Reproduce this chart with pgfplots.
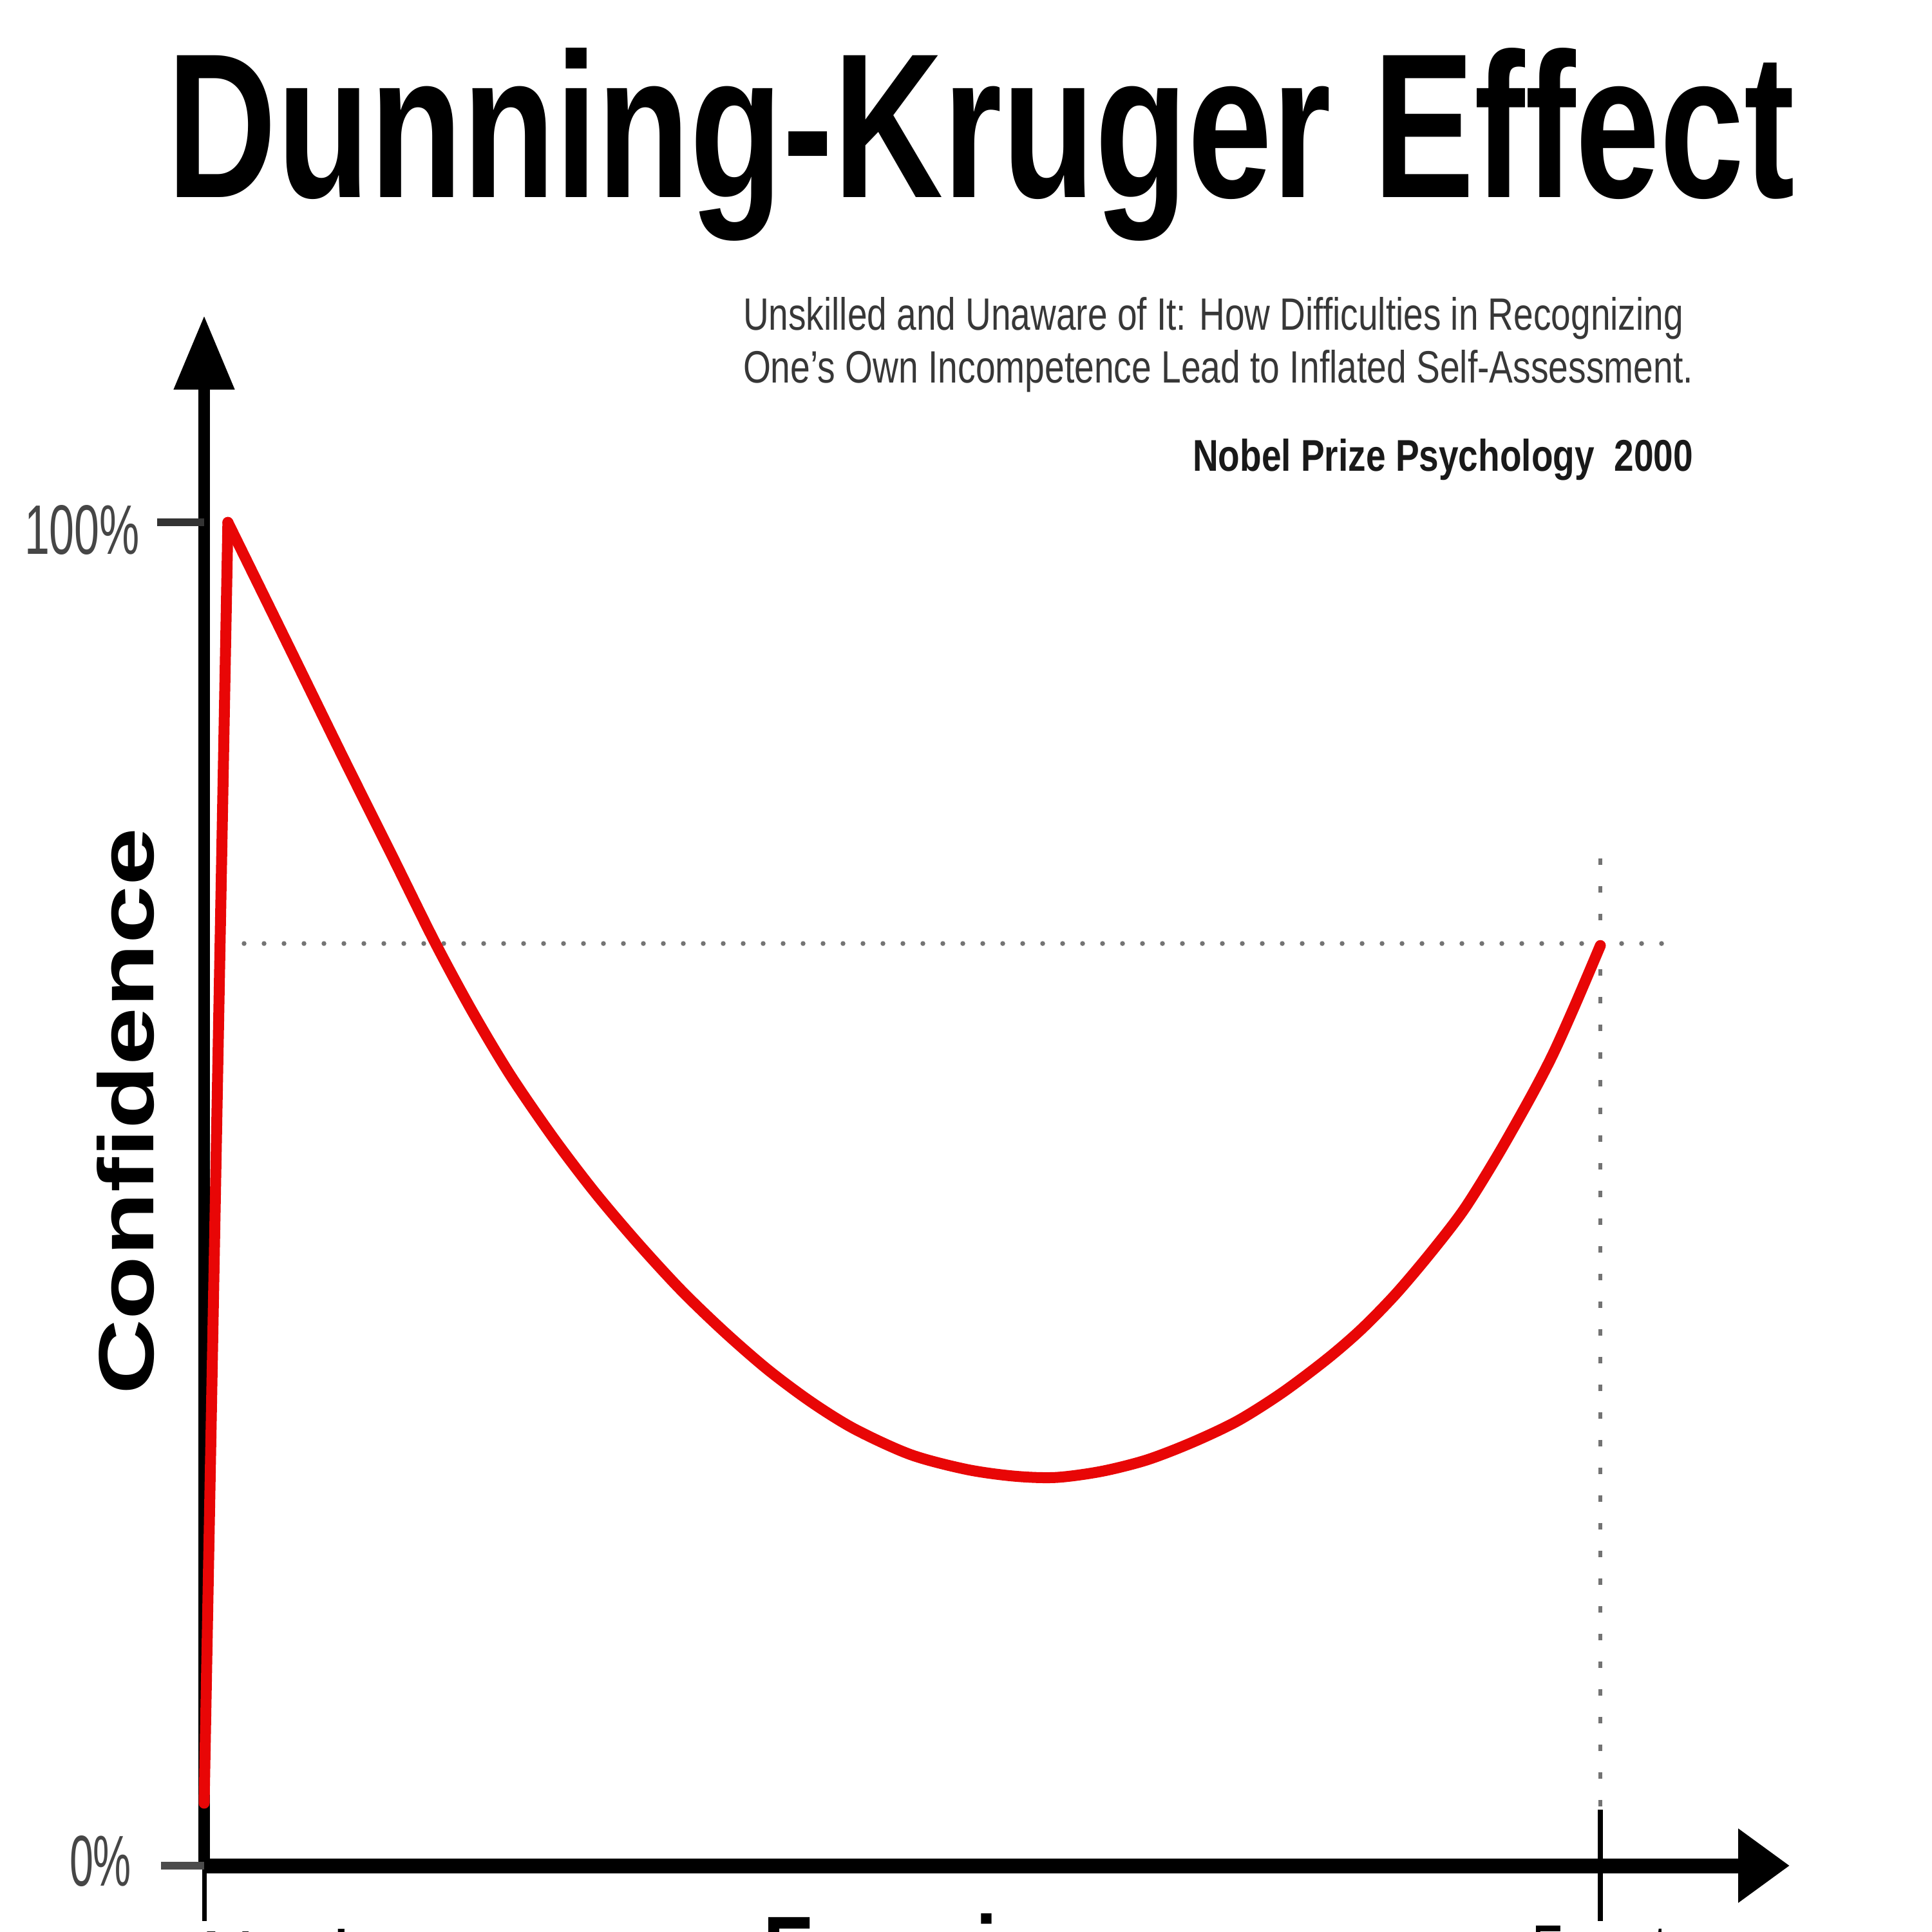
\documentclass[border=0pt]{standalone}
\usepackage{pgfplots}
\pgfplotsset{compat=1.18}
\usepackage{fontspec}
\setmainfont{Liberation Sans}
\usetikzlibrary{arrows.meta}
\definecolor{dkred}{RGB}{232,6,6}
\definecolor{dotgray}{RGB}{115,115,115}
\definecolor{subgray}{RGB}{55,55,55}
\definecolor{ticklab}{RGB}{70,70,70}
\begin{document}
\begin{tikzpicture}
\useasboundingbox (0,0) rectangle (300pt,300pt);
\clip (0,0) rectangle (300pt,300pt);
% title and texts
\node[anchor=base west, inner sep=0] at (25.8pt,269.3pt) {\resizebox{252.7pt}{23.2pt}{\bfseries Dunning-Kruger Effect}};
\node[anchor=base west, inner sep=0, text=subgray] at (115.2pt,248.7pt) {\resizebox{146pt}{5.1pt}{Unskilled and Unaware of It: How Difficulties in Recognizing}};
\node[anchor=base west, inner sep=0, text=subgray] at (115.2pt,240.5pt) {\resizebox{147.5pt}{5.1pt}{One's Own Incompetence Lead to Inflated Self-Assessment.}};
\node[anchor=base west, inner sep=0, text=black!90] at (185pt,226.8pt) {\resizebox{77.7pt}{5.0pt}{\bfseries Nobel Prize Psychology~~2000}};
\node[anchor=base west, inner sep=0, text=ticklab] at (3.6pt,213.9pt) {\resizebox{17.9pt}{7.6pt}{100\%}};
\node[anchor=base west, inner sep=0, text=ticklab] at (10.6pt,7.2pt) {\resizebox{9.6pt}{7.8pt}{0\%}};
\node[rotate=90, anchor=base west, inner sep=0] at (23.8pt,83.2pt) {\resizebox{88pt}{8.8pt}{\bfseries Confidence}};
\node[anchor=base west, inner sep=0] at (118.3pt,-8.8pt) {\resizebox{63.4pt}{11.6pt}{\bfseries Experience}};
\node[anchor=base west, inner sep=0] at (31pt,-7.5pt) {\resizebox{35.3pt}{8pt}{Novice}};
\node[anchor=base west, inner sep=0] at (237.7pt,-7.0pt) {\resizebox{21pt}{8pt}{Expert}};
\begin{axis}[
  at={(31.7pt,10.3pt)}, anchor=south west,
  scale only axis, width=246.2pt, height=240.7pt,
  xmin=0, xmax=113.56, ymin=0, ymax=115.4,
  axis lines=middle,
  x axis line style={line width=2.3pt, -{Triangle[length=8pt,width=11pt]}},
  y axis line style={line width=1.8pt, -{Triangle[length=11.5pt,width=9pt]}},
  xtick=\empty, ytick=\empty,
  clip=false,
]
% reference lines
\addplot[dotgray, line width=0.75pt, dash pattern=on 0pt off 3.1pt, line cap=round] coordinates {(2.86,68.65) (104.5,68.65)};
\addplot[dotgray, line width=0.6pt, dash pattern=on 1pt off 3.3pt] coordinates {(100,75.0) (100,4.17)};
\addplot[black, line width=0.8pt] coordinates {(100,4.17) (100,-4.12)};
\addplot[black, line width=0.7pt] coordinates {(0,0) (0,-4.12)};
\addplot[black!80, line width=1.2pt] coordinates {(0,100) (-3.37,100)};
\addplot[black!70, line width=1.2pt] coordinates {(0,0) (-3.1,0)};
% curve
\addplot[dkred, line width=1.7pt, line cap=round] coordinates {(0,4.65) (1.7,100)};
\addplot[dkred, line width=1.7pt, smooth, line cap=round] coordinates {
(1.7,100) (6,90.9) (10,82.4) (13.5,75.1) (16.5,68.8) (19.2,63.6) (21.9,58.9)
(25,54.2) (28,50.1) (31.1,46.3) (34.2,42.8) (37.3,39.7) (40.4,36.9) (43.5,34.5)
(46.6,32.5) (50.6,30.6) (54.6,29.5) (58,29.0) (61,28.9) (64.25,29.35) (67.5,30.2)
(70.75,31.5) (74,33.1) (77.2,35.2) (80.4,37.7) (82.85,39.9) (85.3,42.5)
(87.75,45.5) (90.2,48.8) (92.6,52.8) (95,57.2) (96.6,60.4) (98.2,64.1) (100,68.5)};
\end{axis}
\end{tikzpicture}
\end{document}
